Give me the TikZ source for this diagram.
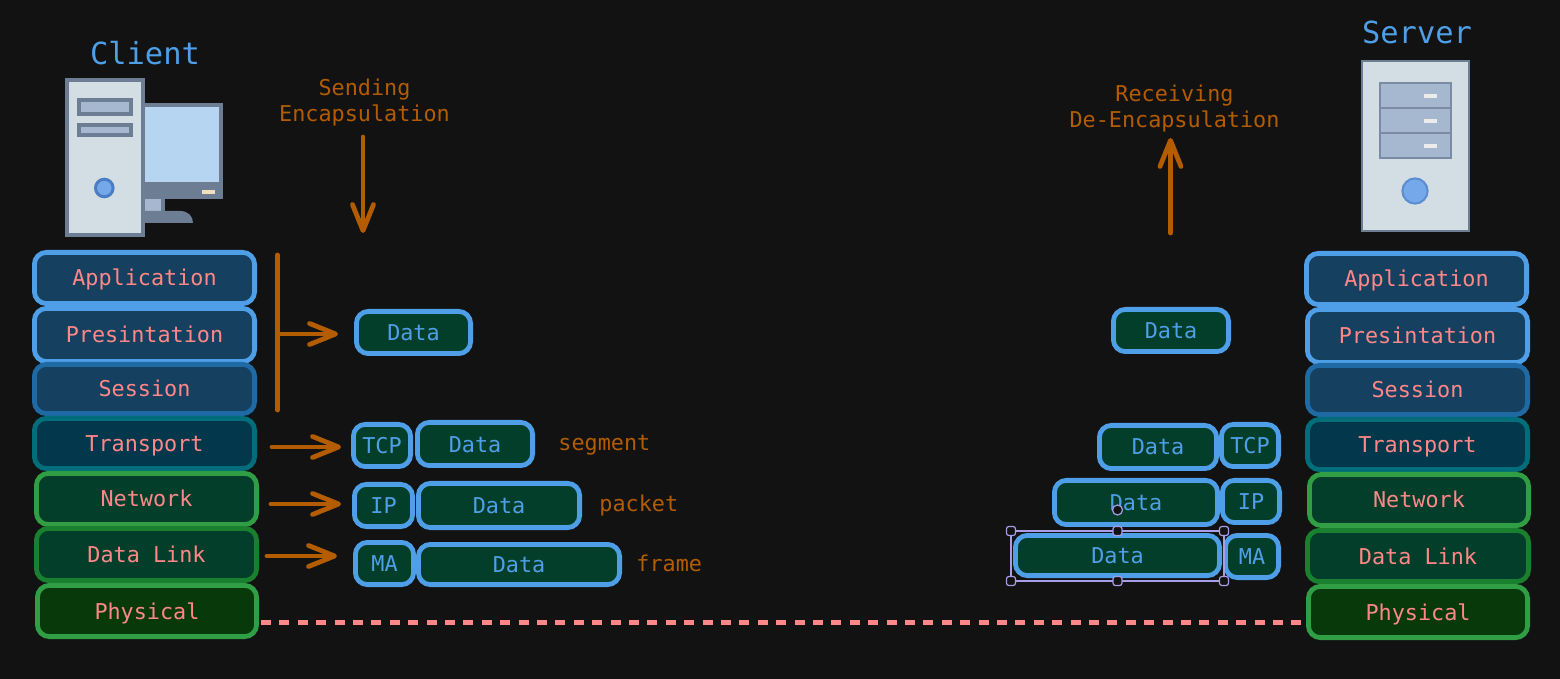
\documentclass[tikz,border=0pt]{standalone}
\usepackage{fontspec}
\setmainfont{DejaVu Sans Mono}
\usetikzlibrary{arrows.meta}
\definecolor{bgc}{HTML}{121212}
\definecolor{blu}{HTML}{4F9FE8}
\definecolor{blutwo}{HTML}{1F6AA5}
\definecolor{tealc}{HTML}{006D7A}
\definecolor{grn}{HTML}{2F9E44}
\definecolor{grntwo}{HTML}{19802F}
\definecolor{fa}{HTML}{154060}
\definecolor{fb}{HTML}{03384C}
\definecolor{fc}{HTML}{033E2B}
\definecolor{fd}{HTML}{07390B}
\definecolor{org}{HTML}{B35C00}
\definecolor{pnk}{HTML}{FF8787}
\definecolor{slate}{HTML}{6C7D94}
\definecolor{pale}{HTML}{D3DDE4}
\definecolor{steel}{HTML}{A6B8D0}
\definecolor{drawer}{HTML}{7A8BA3}
\definecolor{scr}{HTML}{B5D5F0}
\definecolor{sel}{HTML}{A89EE8}
\definecolor{led}{HTML}{F0E0C0}
\definecolor{ledw}{HTML}{ECECEC}
\definecolor{cfill}{HTML}{74A8EA}
\definecolor{cdraw}{HTML}{4B7DC4}
\definecolor{sdraw}{HTML}{5B8BD0}
\tikzset{
  x=.5pt,y=-.5pt,
  boxed/.style={rounded corners=6pt,line width=2.4pt,inner sep=0pt,font=\fontsize{10.9}{12}\selectfont,text height=8pt,text depth=0pt},
  lay/.style={boxed,text=pnk},
  laya/.style={lay,draw=blu,fill=fa},
  layb/.style={lay,draw=blutwo,fill=fa},
  layc/.style={lay,draw=tealc,fill=fb},
  layd/.style={lay,draw=grn,fill=fc},
  laye/.style={lay,draw=grntwo,fill=fc},
  layf/.style={lay,draw=grn,fill=fd},
  pdu/.style={boxed,text=blu,draw=blu,fill=fc},
  arr/.style={draw=org,line width=2.4pt,line cap=round,-{Straight Barb[round,length=13pt,width=10.5pt]}},
  stem/.style={draw=org,line width=2.4pt,line cap=round},
  capt/.style={text=org,font=\fontsize{10.9}{13}\selectfont,align=center,inner sep=0pt},
  lab/.style={text=org,font=\fontsize{10.9}{13}\selectfont,inner sep=0pt,anchor=base west},
  ttl/.style={text=blu,font=\fontsize{15.2}{18}\selectfont,inner sep=0pt,anchor=base},
  hnd/.style={draw=sel,fill=bgc,line width=.6pt,rounded corners=1.2pt},
}
\newcommand{\bx}[7]{%
  \pgfmathsetmacro\bw{(#4-#2)/2-2.4}%
  \pgfmathsetmacro\bh{(#5-#3)/2-2.4}%
  \node[#6,minimum width=\bw pt,minimum height=\bh pt] (#1) at ({(#2+#4)/2},{(#3+#5)/2}) {#7};}
\begin{document}
\begin{tikzpicture}
\useasboundingbox (0,0) rectangle (1560,679);
\fill[bgc] (0,0) rectangle (1560,679);

% client icon
\fill[slate] (144,103) rectangle (223,199);
\fill[scr] (144,107) rectangle (219,182);
\fill[led] (202,190) rectangle (214.5,194.5);
\fill[slate] (144,199) rectangle (164.7,212);
\fill[steel] (144,199) rectangle (160.7,211);
\fill[slate] (144,211) -- (180,211) .. controls (188,211) and (193,216) .. (193,223) -- (144,223) -- cycle;
\draw[slate,line width=2pt,fill=pale] (67,80) rectangle (143,235);
\draw[slate,line width=2pt,fill=steel] (79,100) rectangle (130.5,114.5);
\draw[slate,line width=2pt,fill=steel] (79,125) rectangle (130.5,135);
\draw[fill=cfill,draw=cdraw,line width=1.5pt] (104.3,188) circle (4.4pt);

% server icon
\draw[slate,line width=1pt,fill=pale] (1361.5,61) rectangle (1468.5,231);
\draw[drawer,line width=1pt,fill=steel] (1379.5,83) rectangle (1450.5,108.3);
\draw[drawer,line width=1pt,fill=steel] (1379.5,108.3) rectangle (1450.5,133.3);
\draw[drawer,line width=1pt,fill=steel] (1379.5,133.3) rectangle (1450.5,158.5);
\fill[ledw] (1424,93.7) rectangle (1437.3,98);
\fill[ledw] (1424,118.7) rectangle (1437.3,123.3);
\fill[ledw] (1424,143.7) rectangle (1437.3,148);
\draw[fill=cfill,draw=sdraw,line width=1pt] (1415,191) circle (6.3pt);

% titles and captions
\node[ttl] (client) at (145,65) {Client};
\node[ttl] (server) at (1417,44) {Server};
\node[capt] (send) at (364.5,102.5) {Sending\\Encapsulation};
\node[capt] (recv) at (1174.5,108.5) {Receiving\\De-Encapsulation};

% left stack
\bx{la}{32}{250}{257}{306}{laya}{Application}
\bx{lb}{32}{306}{257}{364}{laya}{Presintation}
\bx{lc}{32}{362}{257}{416}{layb}{Session}
\bx{ld}{32}{416}{257}{471}{layc}{Transport}
\bx{le}{34}{471}{259}{527}{layd}{Network}
\bx{lf}{34}{526}{259}{583}{laye}{Data Link}
\bx{lg}{35}{583}{259}{639}{layf}{Physical}

% right stack
\bx{ra}{1304}{251}{1529}{307}{laya}{Application}
\bx{rb}{1305}{307}{1530}{365}{laya}{Presintation}
\bx{rc}{1305}{363}{1530}{417}{layb}{Session}
\bx{rd}{1305}{417}{1530}{472}{layc}{Transport}
\bx{re}{1307}{472}{1531}{528}{layd}{Network}
\bx{rf}{1305}{528}{1531}{584}{laye}{Data Link}
\bx{rg}{1306}{584}{1530}{640}{layf}{Physical}

% left PDUs
\bx{d1}{354}{309}{473}{356}{pdu}{Data}
\bx{t2}{351}{422}{413}{469}{pdu}{TCP}
\bx{d2}{415}{420}{535}{468}{pdu}{Data}
\bx{t3}{352}{482}{415}{529}{pdu}{IP}
\bx{d3}{416}{481}{582}{530}{pdu}{Data}
\bx{t4}{353}{540}{416}{587}{pdu}{MA}
\bx{d4}{416}{542}{622}{587}{pdu}{Data}

% right PDUs
\bx{e1}{1111}{307}{1231}{354}{pdu}{Data}
\bx{e2}{1097}{423}{1219}{471}{pdu}{Data}
\bx{u2}{1219}{422}{1281}{469}{pdu}{TCP}
\bx{e3}{1052}{478}{1220}{527}{pdu}{Data}
\bx{u3}{1220}{478}{1282}{525}{pdu}{IP}
\bx{e4}{1013}{533}{1222}{578}{pdu}{Data}
\bx{u4}{1223}{533}{1281}{580}{pdu}{MA}

% labels
\node[lab] (seg) at (558,451) {segment};
\node[lab] (pkt) at (599,511) {packet};
\node[lab] (frm) at (636,572) {frame};

% arrows
\coordinate (sa) at (363,137);
\coordinate (sb) at (363,233);
\draw[arr] (sa) -- (sb);
\coordinate (ra0) at (1170.5,233);
\coordinate (ra1) at (1170.5,138);
\draw[arr] (ra0) -- (ra1);
\coordinate (bt) at (277.5,255);
\coordinate (bb) at (277.5,410);
\draw[stem] (bt) -- (bb);
\coordinate (bm) at (280,334);
\draw[arr,shorten >=8pt] (bm) -- (d1.west |- bm);
\coordinate (a2) at (272,447);
\draw[arr,shorten >=5pt] (a2) -- (t2.west |- a2);
\coordinate (a3) at (271,504);
\draw[arr,shorten >=5.5pt] (a3) -- (t3.west |- a3);
\coordinate (a4) at (267,556);
\draw[arr,shorten >=8pt] (a4) -- (t4.west |- a4);
\coordinate (ph) at (261,622.5);
\draw[pnk,line width=2.2pt,dash pattern=on 5pt off 4.2pt] (ph) -- (rg.west |- ph);

% selection frame
\draw[sel,line width=.6pt] (1011,531) rectangle (1224,581);
\foreach \hx/\hy in {1011/531,1117.5/531,1224/531,1011/581,1117.5/581,1224/581}{
  \draw[hnd] (\hx-4.5,\hy-4.5) rectangle (\hx+4.5,\hy+4.5);
}
\draw[sel,fill=bgc,line width=.6pt] (1117.5,510) circle (2.5pt);
\end{tikzpicture}
\end{document}
